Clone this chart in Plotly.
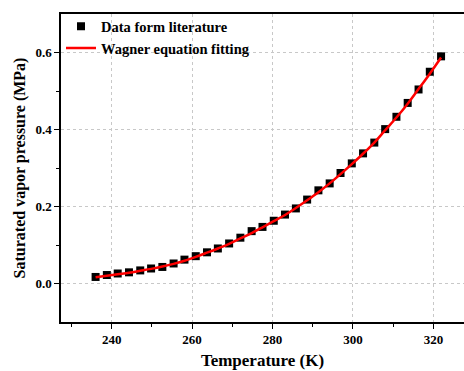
import plotly.graph_objects as go

temps = [236.0, 238.8, 241.5, 244.3, 247.1, 249.8, 252.6, 255.4, 258.1, 260.9,
         263.7, 266.4, 269.2, 272.0, 274.8, 277.5, 280.3, 283.1, 285.8, 288.6,
         291.4, 294.2, 296.9, 299.7, 302.5, 305.3, 308.0, 310.8, 313.6, 316.3,
         319.1, 321.9]
p_data = [0.017, 0.022, 0.026, 0.029, 0.034, 0.039, 0.043, 0.052, 0.062, 0.071,
          0.081, 0.091, 0.104, 0.119, 0.136, 0.147, 0.163, 0.179, 0.195, 0.218,
          0.242, 0.260, 0.287, 0.312, 0.338, 0.366, 0.401, 0.433, 0.469, 0.504,
          0.550, 0.590]
p_fit = [0.016, 0.020, 0.024, 0.028, 0.033, 0.038, 0.044, 0.051, 0.059, 0.069,
         0.080, 0.091, 0.103, 0.117, 0.131, 0.146, 0.162, 0.178, 0.196, 0.216,
         0.237, 0.260, 0.284, 0.310, 0.337, 0.366, 0.398, 0.431, 0.467, 0.505,
         0.545, 0.587]

font_family = "Liberation Serif"

fig = go.Figure()
fig.add_trace(go.Scatter(
    x=temps, y=p_data, mode="markers", name="<b>Data form literature</b>",
    marker=dict(symbol="square", size=8, color="black"),
))
fig.add_trace(go.Scatter(
    x=temps, y=p_fit, mode="lines", name="<b>Wagner equation fitting</b>",
    line=dict(color="#ff0000", width=2.5, shape="spline"),
))

fig.update_layout(
    width=464, height=371,
    margin=dict(l=61, r=0, t=14, b=49),
    plot_bgcolor="white", paper_bgcolor="white",
    font=dict(family=font_family, color="black"),
    showlegend=True,
    legend=dict(x=0.0, y=1.012, xanchor="left", yanchor="top",
                bgcolor="rgba(0,0,0,0)", font=dict(size=14.5, family=font_family),
                tracegroupgap=0, itemwidth=30),
)
fig.update_xaxes(
    range=[227.4, 327.6],
    tickvals=[240, 260, 280, 300, 320],
    ticktext=["<b>240</b>", "<b>260</b>", "<b>280</b>", "<b>300</b>", "<b>320</b>"],
    tickfont=dict(size=13, family=font_family),
    ticks="outside", ticklen=5, tickwidth=1.2, tickcolor="black",
    minor=dict(tickvals=[230, 250, 270, 290, 310], ticks="outside", ticklen=3,
               tickcolor="black", showgrid=False),
    showline=True, linecolor="black", linewidth=1.5, mirror=True,
    showgrid=True, gridcolor="#c8c8c8", griddash="dot", gridwidth=1,
    zeroline=False,
    title=dict(text="<b>Temperature (K)</b>", font=dict(size=17, family=font_family), standoff=8),
)
fig.update_yaxes(
    range=[-0.1, 0.7],
    tickvals=[0.0, 0.2, 0.4, 0.6],
    ticktext=["<b>0.0</b>", "<b>0.2</b>", "<b>0.4</b>", "<b>0.6</b>"],
    tickfont=dict(size=13, family=font_family),
    ticks="outside", ticklen=5, tickwidth=1.2, tickcolor="black",
    minor=dict(tickvals=[0.1, 0.3, 0.5], ticks="outside", ticklen=3,
               tickcolor="black", showgrid=False),
    showline=True, linecolor="black", linewidth=1.5, mirror=False,
    showgrid=True, gridcolor="#c8c8c8", griddash="dot", gridwidth=1,
    zeroline=False,
    title=dict(text="<b>Saturated vapor pressure (MPa)</b>", font=dict(size=16, family=font_family), standoff=6),
)

fig.write_html("out.html")
